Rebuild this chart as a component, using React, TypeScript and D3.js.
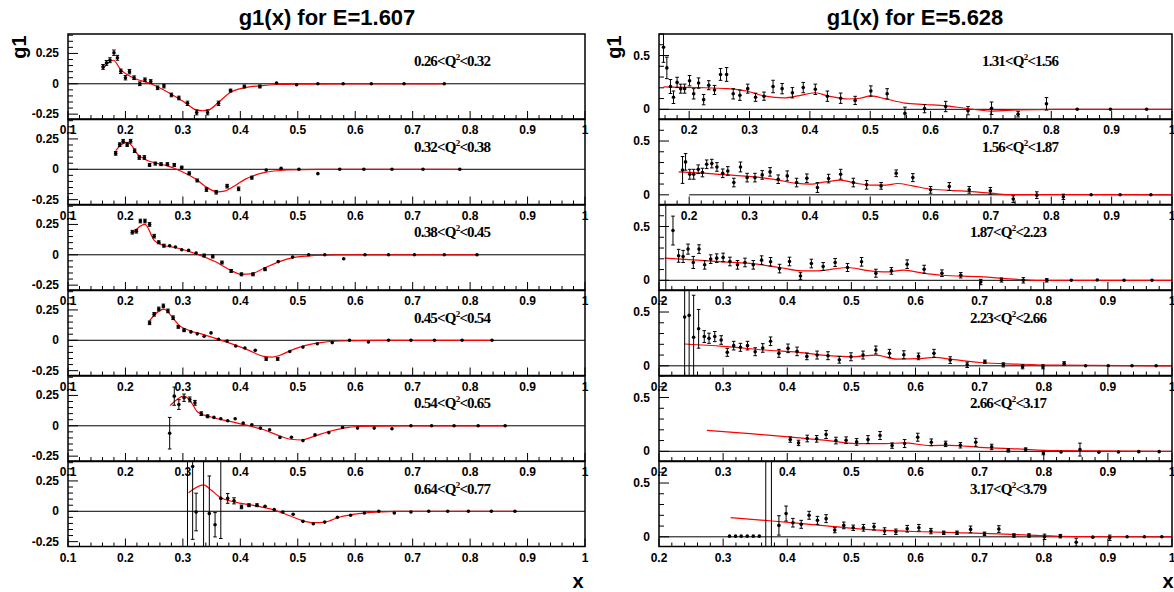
import React from "react";
import * as d3 from "d3";

const W = 1174;
const H = 592;

const leftTitle = "g1(x) for E=1.607";
const rightTitle = "g1(x) for E=5.628";

// Q^2 bins, low/high edge
const leftBins = [["0.26", "0.32"], ["0.32", "0.38"], ["0.38", "0.45"], ["0.45", "0.54"], ["0.54", "0.65"], ["0.64", "0.77"]];
const rightBins = [["1.31", "1.56"], ["1.56", "1.87"], ["1.87", "2.23"], ["2.23", "2.66"], ["2.66", "3.17"], ["3.17", "3.79"]];

const leftXTicks = [0.1, 0.2, 0.3, 0.4, 0.5, 0.6, 0.7, 0.8, 0.9, 1];
const rightXTicks = [0.2, 0.3, 0.4, 0.5, 0.6, 0.7, 0.8, 0.9, 1];
const leftYTicks = [-0.25, 0, 0.25];
const rightYTicks = [0, 0.5];

// points: [x, g1, error]
const l1Pts = [
  [0.161, 0.139, 0.02], [0.167, 0.172, 0.02], [0.173, 0.194, 0.02], [0.18, 0.256, 0.022], [0.186, 0.214, 0.02],
  [0.192, 0.103, 0.018], [0.2, 0.05, 0.018], [0.207, 0.1, 0.018], [0.215, 0.05, 0.015], [0.225, 0.0, 0.015],
  [0.234, 0.033, 0.015], [0.244, 0.019, 0.015], [0.256, -0.033, 0.015], [0.267, -0.019, 0.015], [0.28, -0.092, 0.015],
  [0.293, -0.117, 0.015], [0.308, -0.161, 0.018], [0.324, -0.236, 0.02], [0.343, -0.236, 0.02], [0.362, -0.161, 0.018],
  [0.383, -0.056, 0.012], [0.407, -0.022, 0.012], [0.434, -0.022, 0.012], [0.463, 0.006, 0.01], [0.498, -0.008, 0.01],
  [0.535, 0, 0.004], [0.579, 0, 0.003], [0.628, 0, 0.003], [0.685, 0, 0.003], [0.755, 0, 0.003]
];
const l1Fit = [
  [0.161, 0.125], [0.179, 0.194], [0.192, 0.115], [0.205, 0.07], [0.217, 0.042], [0.244, 0.0], [0.277, -0.078],
  [0.303, -0.153], [0.323, -0.215], [0.335, -0.222], [0.345, -0.215], [0.362, -0.153], [0.383, -0.069], [0.407, -0.033],
  [0.434, -0.017], [0.463, -0.006], [0.5, -0.002], [0.6, 0], [0.755, 0]
];

const l2Pts = [
  [0.183, 0.131, 0.015], [0.19, 0.203, 0.015], [0.196, 0.231, 0.015], [0.203, 0.203, 0.015], [0.209, 0.231, 0.015],
  [0.216, 0.153, 0.015], [0.224, 0.097, 0.015], [0.233, 0.097, 0.015], [0.242, 0.036, 0.012], [0.252, 0.047, 0.012],
  [0.262, 0.042, 0.012], [0.273, 0.042, 0.012], [0.285, 0.036, 0.012], [0.298, 0.014, 0.012], [0.311, -0.033, 0.012],
  [0.325, -0.092, 0.012], [0.341, -0.167, 0.015], [0.358, -0.189, 0.015], [0.377, -0.139, 0.015], [0.397, -0.161, 0.015],
  [0.42, -0.069, 0.012], [0.445, -0.006, 0.01], [0.471, 0.008, 0.008], [0.502, 0.0, 0.006], [0.535, -0.036, 0.004],
  [0.573, 0, 0.003], [0.615, 0, 0.003], [0.664, 0, 0.003], [0.718, 0, 0.003], [0.782, 0, 0.003]
];
const l2Fit = [
  [0.183, 0.153], [0.201, 0.222], [0.208, 0.21], [0.221, 0.125], [0.237, 0.075], [0.257, 0.047], [0.273, 0.028],
  [0.296, -0.014], [0.323, -0.083], [0.343, -0.153], [0.36, -0.186], [0.372, -0.18], [0.389, -0.139], [0.408, -0.083],
  [0.441, -0.028], [0.481, -0.006], [0.54, 0], [0.782, 0]
];

const l3Pts = [
  [0.212, 0.186, 0.015], [0.219, 0.194, 0.015], [0.226, 0.278, 0.015], [0.234, 0.278, 0.015], [0.242, 0.25, 0.015],
  [0.25, 0.153, 0.015], [0.258, 0.103, 0.012], [0.267, 0.075, 0.012], [0.277, 0.075, 0.01], [0.287, 0.064, 0.01],
  [0.298, 0.042, 0.01], [0.31, 0.036, 0.01], [0.323, 0.014, 0.01], [0.337, -0.006, 0.012], [0.352, -0.014, 0.012],
  [0.368, -0.064, 0.012], [0.384, -0.133, 0.012], [0.402, -0.161, 0.012], [0.422, -0.161, 0.012], [0.443, -0.119, 0.012],
  [0.466, -0.056, 0.01], [0.491, -0.019, 0.008], [0.519, 0, 0.005], [0.547, 0, 0.004], [0.58, -0.033, 0.004],
  [0.617, 0, 0.003], [0.658, 0, 0.003], [0.703, 0, 0.003], [0.755, 0, 0.003], [0.812, 0, 0.003]
];
const l3Fit = [
  [0.212, 0.175], [0.234, 0.25], [0.25, 0.119], [0.263, 0.083], [0.29, 0.056], [0.323, 0.008], [0.356, -0.056],
  [0.382, -0.125], [0.402, -0.161], [0.418, -0.158], [0.441, -0.111], [0.468, -0.056], [0.494, -0.022], [0.527, -0.006],
  [0.573, 0], [0.812, 0]
];

const l4Pts = [
  [0.242, 0.144, 0.015], [0.25, 0.214, 0.015], [0.258, 0.258, 0.015], [0.266, 0.283, 0.015], [0.274, 0.242, 0.015],
  [0.283, 0.186, 0.015], [0.292, 0.111, 0.012], [0.302, 0.083, 0.012], [0.314, 0.069, 0.01], [0.325, 0.053, 0.01],
  [0.337, 0.033, 0.008], [0.349, 0.061, 0.008], [0.362, 0.008, 0.008], [0.377, -0.006, 0.008], [0.392, -0.047, 0.008],
  [0.408, -0.064, 0.008], [0.426, -0.083, 0.01], [0.445, -0.153, 0.012], [0.465, -0.153, 0.012], [0.486, -0.092, 0.01],
  [0.509, -0.056, 0.008], [0.534, -0.028, 0.006], [0.56, -0.019, 0.005], [0.59, 0, 0.004], [0.623, -0.014, 0.004],
  [0.658, 0, 0.003], [0.697, 0, 0.003], [0.738, 0, 0.003], [0.786, 0, 0.003], [0.838, 0, 0.003]
];
const l4Fit = [
  [0.242, 0.161], [0.267, 0.256], [0.283, 0.181], [0.293, 0.125], [0.31, 0.083], [0.336, 0.047], [0.362, 0.008],
  [0.389, -0.036], [0.415, -0.083], [0.441, -0.133], [0.455, -0.139], [0.468, -0.125], [0.488, -0.083], [0.514, -0.042],
  [0.54, -0.019], [0.573, -0.006], [0.64, 0], [0.838, 0]
];

const l5Pts = [
  [0.277, -0.061, 0.13], [0.285, 0.244, 0.075], [0.293, 0.175, 0.04], [0.302, 0.231, 0.03], [0.312, 0.217, 0.02],
  [0.321, 0.189, 0.02], [0.332, 0.1, 0.015], [0.343, 0.078, 0.012], [0.354, 0.069, 0.01], [0.366, 0.058, 0.008],
  [0.378, 0.042, 0.008], [0.391, 0.058, 0.008], [0.405, 0.022, 0.008], [0.42, 0.008, 0.008], [0.435, -0.019, 0.008],
  [0.451, -0.033, 0.008], [0.469, -0.097, 0.008], [0.489, -0.094, 0.008], [0.509, -0.122, 0.008], [0.53, -0.075, 0.008],
  [0.554, -0.056, 0.008], [0.578, -0.014, 0.006], [0.604, -0.019, 0.006], [0.633, -0.019, 0.005], [0.664, -0.025, 0.005],
  [0.697, 0, 0.003], [0.733, 0, 0.003], [0.772, 0, 0.003], [0.814, 0, 0.003], [0.861, 0, 0.003]
];
const l5Fit = [
  [0.278, 0.167], [0.302, 0.244], [0.313, 0.203], [0.326, 0.111], [0.349, 0.072], [0.382, 0.036], [0.415, 0],
  [0.441, -0.033], [0.468, -0.083], [0.488, -0.111], [0.507, -0.117], [0.527, -0.089], [0.554, -0.047], [0.58, -0.019],
  [0.606, -0.006], [0.672, 0], [0.861, 0]
];

const l6Pts = [
  [0.308, 0.6, 0.95], [0.317, 0.369, 0.6], [0.323, -0.006, 0.155], [0.336, 0.6, 0.95], [0.346, -0.019, 0.31],
  [0.356, -0.111, 0.1], [0.366, 0.106, 0.33], [0.378, 0.106, 0.04], [0.389, 0.086, 0.025], [0.402, 0.036, 0.015],
  [0.415, 0.05, 0.012], [0.429, 0.05, 0.012], [0.443, 0.042, 0.01], [0.459, 0.014, 0.008], [0.474, -0.006, 0.008],
  [0.492, -0.025, 0.008], [0.509, -0.083, 0.008], [0.527, -0.103, 0.01], [0.547, -0.089, 0.008], [0.569, -0.05, 0.008],
  [0.592, -0.033, 0.006], [0.616, -0.014, 0.005], [0.641, 0, 0.004], [0.668, -0.014, 0.004], [0.697, -0.006, 0.003],
  [0.728, 0, 0.003], [0.761, 0, 0.003], [0.797, 0, 0.003], [0.837, 0, 0.003], [0.878, 0, 0.003]
];
const l6Fit = [
  [0.31, 0.153], [0.336, 0.217], [0.349, 0.175], [0.366, 0.111], [0.389, 0.078], [0.428, 0.044], [0.461, 0.008],
  [0.487, -0.039], [0.507, -0.075], [0.527, -0.094], [0.547, -0.089], [0.573, -0.047], [0.606, -0.019], [0.639, -0.006],
  [0.672, 0], [0.878, 0]
];

const r1Pts = [
  [0.1575, 0.577, 0.14], [0.163, 0.385, 0.1], [0.169, 0.212, 0.065], [0.174, 0.112, 0.058], [0.18, 0.25, 0.048],
  [0.186, 0.192, 0.042], [0.1925, 0.192, 0.042], [0.2006, 0.266, 0.048], [0.2075, 0.144, 0.048], [0.2156, 0.244, 0.048],
  [0.224, 0.09, 0.048], [0.2325, 0.224, 0.042], [0.242, 0.18, 0.042], [0.252, 0.324, 0.055], [0.262, 0.324, 0.064],
  [0.273, 0.144, 0.048], [0.284, 0.131, 0.048], [0.297, 0.192, 0.042], [0.31, 0.112, 0.038], [0.324, 0.122, 0.038],
  [0.339, 0.212, 0.058], [0.354, 0.192, 0.048], [0.371, 0.154, 0.048], [0.389, 0.202, 0.048], [0.409, 0.186, 0.048],
  [0.429, 0.122, 0.048], [0.451, 0.103, 0.048], [0.475, 0.083, 0.038], [0.501, 0.17, 0.048], [0.528, 0.144, 0.048],
  [0.5575, -0.038, 0.058], [0.59, 0.006, 0.038], [0.625, 0.026, 0.048], [0.662, -0.013, 0.038], [0.701, 0.01, 0.058],
  [0.745, -0.045, 0.026], [0.792, 0.051, 0.058], [0.843, 0, 0.008], [0.898, 0, 0.008], [0.958, 0, 0.008]
];
const r1Fit = [
  [0.1575, 0.208], [0.214, 0.202], [0.264, 0.192], [0.295, 0.17], [0.326, 0.122], [0.357, 0.106], [0.383, 0.128],
  [0.408, 0.154], [0.431, 0.122], [0.464, 0.096], [0.483, 0.103], [0.501, 0.125], [0.526, 0.096], [0.5575, 0.058],
  [0.589, 0.045], [0.626, 0.032], [0.657, 0.01], [0.701, -0.016], [0.745, -0.006], [0.8075, 0], [1, 0]
];

const r2Pts = [
  [0.189, 0.231, 0.125], [0.194, 0.306, 0.077], [0.201, 0.191, 0.046], [0.2075, 0.191, 0.046], [0.215, 0.238, 0.04],
  [0.222, 0.207, 0.04], [0.229, 0.284, 0.04], [0.2375, 0.29, 0.04], [0.246, 0.259, 0.04], [0.2556, 0.2, 0.04],
  [0.264, 0.222, 0.04], [0.274, 0.114, 0.04], [0.285, 0.259, 0.046], [0.296, 0.16, 0.04], [0.309, 0.16, 0.04],
  [0.321, 0.185, 0.04], [0.334, 0.213, 0.04], [0.3475, 0.145, 0.04], [0.3625, 0.176, 0.046], [0.378, 0.114, 0.04],
  [0.395, 0.154, 0.04], [0.4125, 0.068, 0.046], [0.431, 0.151, 0.04], [0.451, 0.191, 0.046], [0.472, 0.114, 0.04],
  [0.494, 0.093, 0.04], [0.518, 0.083, 0.031], [0.543, 0.2, 0.031], [0.5706, 0.16, 0.037], [0.6, 0.046, 0.031],
  [0.631, 0.077, 0.037], [0.664, 0.046, 0.031], [0.699, 0.037, 0.031], [0.737, -0.04, 0.031], [0.776, -0.003, 0.031],
  [0.82, -0.019, 0.025], [0.866, 0, 0.008], [0.914, 0, 0.008], [0.965, 0, 0.008]
];
const r2Fit = [
  [0.1825, 0.213], [0.214, 0.204], [0.264, 0.185], [0.32, 0.16], [0.345, 0.139], [0.376, 0.108], [0.401, 0.099],
  [0.426, 0.12], [0.451, 0.136], [0.476, 0.108], [0.501, 0.09], [0.526, 0.09], [0.545, 0.105], [0.57, 0.083],
  [0.601, 0.052], [0.651, 0.037], [0.701, 0.015], [0.726, 0.002], [0.8, 0.003], [1, 0]
];

const r3Pts = [
  [0.2106, 0.9, 1.1], [0.2218, 0.4625, 0.134], [0.2306, 0.228, 0.06], [0.2376, 0.222, 0.056], [0.2453, 0.29, 0.047],
  [0.2535, 0.166, 0.056], [0.2624, 0.29, 0.04], [0.2712, 0.144, 0.04], [0.2806, 0.197, 0.04], [0.29, 0.206, 0.04],
  [0.3, 0.2125, 0.04], [0.3106, 0.175, 0.04], [0.3224, 0.144, 0.04], [0.3341, 0.166, 0.04], [0.347, 0.144, 0.04],
  [0.36, 0.1875, 0.04], [0.374, 0.172, 0.04], [0.388, 0.109, 0.04], [0.4035, 0.175, 0.04], [0.4206, 0.04, 0.031],
  [0.4376, 0.156, 0.04], [0.456, 0.128, 0.037], [0.4747, 0.166, 0.037], [0.494, 0.119, 0.037], [0.5159, 0.172, 0.04],
  [0.5382, 0.066, 0.037], [0.5624, 0.0875, 0.031], [0.587, 0.15, 0.04], [0.6135, 0.103, 0.037], [0.6412, 0.066, 0.031],
  [0.6706, 0.047, 0.025], [0.7018, -0.016, 0.025], [0.7341, 0.003, 0.019], [0.7682, 0, 0.025], [0.8047, 0, 0.016],
  [0.843, 0, 0.008], [0.8835, 0.003, 0.008], [0.9253, 0, 0.008], [0.9688, 0, 0.008]
];
const r3Fit = [
  [0.2088, 0.206], [0.2529, 0.19], [0.3, 0.172], [0.3529, 0.15], [0.388, 0.119], [0.4235, 0.0875], [0.447, 0.0875],
  [0.494, 0.119], [0.529, 0.0875], [0.5529, 0.078], [0.582, 0.094], [0.6118, 0.066], [0.641, 0.047], [0.7, 0.034],
  [0.7588, 0.009], [0.788, 0], [1, 0]
];

const r4Pts = [
  [0.24, 0.453, 1.0], [0.247, 0.469, 1.0], [0.254, 0.266, 0.39], [0.2618, 0.344, 0.18], [0.2706, 0.272, 0.055],
  [0.278, 0.256, 0.047], [0.287, 0.272, 0.047], [0.297, 0.24, 0.04], [0.3065, 0.125, 0.037], [0.3165, 0.1875, 0.04],
  [0.327, 0.172, 0.037], [0.338, 0.1875, 0.04], [0.35, 0.131, 0.037], [0.3618, 0.166, 0.04], [0.374, 0.228, 0.04],
  [0.387, 0.116, 0.037], [0.4012, 0.1625, 0.04], [0.4153, 0.134, 0.04], [0.4306, 0.0875, 0.031], [0.4465, 0.1, 0.037],
  [0.4635, 0.094, 0.037], [0.4812, 0.056, 0.031], [0.4994, 0.084, 0.037], [0.5182, 0.1, 0.037], [0.5382, 0.147, 0.037],
  [0.5594, 0.116, 0.037], [0.5818, 0.103, 0.037], [0.6047, 0.0875, 0.031], [0.6288, 0.116, 0.037], [0.6541, 0.053, 0.031],
  [0.6806, 0.009, 0.025], [0.7082, 0.0375, 0.016], [0.737, 0.009, 0.019], [0.767, -0.009, 0.019], [0.7988, -0.009, 0.019],
  [0.8318, 0.022, 0.016], [0.8653, 0, 0.008], [0.9006, 0, 0.008], [0.9376, 0, 0.008], [0.9753, 0, 0.008]
];
const r4Fit = [
  [0.24, 0.203], [0.3, 0.181], [0.3647, 0.147], [0.4176, 0.125], [0.4647, 0.094], [0.5, 0.084], [0.5382, 0.1],
  [0.5706, 0.0625], [0.6118, 0.069], [0.629, 0.078], [0.653, 0.0625], [0.7, 0.031], [0.7588, 0.016], [0.8176, 0.006],
  [1, 0]
];

const r5Pts = [
  [0.4047, 0.109, 0.025], [0.4176, 0.078, 0.025], [0.4312, 0.119, 0.031], [0.4459, 0.116, 0.031], [0.4606, 0.156, 0.037],
  [0.4759, 0.1, 0.031], [0.4918, 0.103, 0.031], [0.5082, 0.0875, 0.031], [0.5259, 0.109, 0.037], [0.5447, 0.147, 0.037],
  [0.5635, 0.053, 0.025], [0.583, 0.072, 0.037], [0.6035, 0.131, 0.037], [0.6247, 0.084, 0.031], [0.647, 0.069, 0.025],
  [0.67, 0.056, 0.025], [0.694, 0.084, 0.037], [0.7188, 0.041, 0.025], [0.7447, 0.009, 0.016], [0.7718, 0.016, 0.016],
  [0.7994, -0.016, 0.016], [0.827, -0.006, 0.008], [0.8565, 0.016, 0.06], [0.8859, -0.009, 0.008], [0.9165, -0.006, 0.008],
  [0.9482, -0.003, 0.008], [0.98, -0.003, 0.008]
];
const r5Fit = [
  [0.2747, 0.194], [0.347, 0.1625], [0.4059, 0.131], [0.4647, 0.1], [0.5059, 0.072], [0.5529, 0.072], [0.582, 0.078],
  [0.6235, 0.053], [0.653, 0.056], [0.7, 0.0375], [0.7588, 0.022], [0.8176, 0.006], [1, 0]
];

const r6Pts = [
  [0.31, 0.006, 0], [0.3194, 0.006, 0], [0.3282, 0.006, 0], [0.3376, 0.006, 0], [0.347, 0.006, 0], [0.3565, 0.006, 0],
  [0.3665, 0.9, 1.1], [0.3753, 0.9, 1.1], [0.387, 0.106, 0.09], [0.3982, 0.216, 0.07], [0.4088, 0.131, 0.04],
  [0.4218, 0.116, 0.037], [0.4341, 0.2, 0.037], [0.4471, 0.153, 0.037], [0.4606, 0.169, 0.037], [0.4741, 0.0625, 0.025],
  [0.4882, 0.106, 0.031], [0.5029, 0.084, 0.025], [0.5188, 0.084, 0.031], [0.5353, 0.094, 0.031], [0.5518, 0.053, 0.031],
  [0.5694, 0.047, 0.025], [0.5871, 0.075, 0.031], [0.6053, 0.084, 0.031], [0.6241, 0.053, 0.025], [0.6441, 0.0375, 0.016],
  [0.6647, 0.0375, 0.016], [0.6859, 0.069, 0.031], [0.7076, 0.028, 0.016], [0.73, 0.072, 0.031], [0.7535, 0.0125, 0.016],
  [0.777, 0.0125, 0.016], [0.8012, 0, 0.025], [0.8259, 0.006, 0.016], [0.8506, -0.05, 0.037], [0.8765, -0.003, 0.008],
  [0.9029, -0.009, 0.025], [0.93, 0, 0.008], [0.957, 0, 0.008], [0.9841, 0, 0.008]
];
const r6Fit = [
  [0.3118, 0.178], [0.3765, 0.147], [0.4353, 0.116], [0.494, 0.084], [0.5529, 0.059], [0.6118, 0.047], [0.6706, 0.0375],
  [0.7294, 0.028], [0.7882, 0.0125], [0.847, 0.003], [1, 0]
];

const TOP = 34;
const PITCH = 85.5;
const PH = 85;

const cols = [
  {
    key: "l",
    x0: 68,
    x1: 585,
    yDom: [-0.29, 0.41],
    yTicks: leftYTicks,
    yMinor: 0.05,
    xTicks: leftXTicks,
    xDoms: [[0.1, 1], [0.1, 1], [0.1, 1], [0.1, 1], [0.1, 1], [0.1, 1]],
    zeroFrom: [0.1, 0.1, 0.1, 0.1, 0.1, 0.1],
    labelX: [414, 414, 414, 414, 414, 414],
    bins: leftBins,
    pts: [l1Pts, l2Pts, l3Pts, l4Pts, l5Pts, l6Pts],
    fits: [l1Fit, l2Fit, l3Fit, l4Fit, l5Fit, l6Fit],
    title: leftTitle,
    yFmt: (d) => (d === 0 ? "0" : d.toFixed(2)),
    titleX: 327,
    g1X: 19,
    xLabX: 578
  },
  {
    key: "r",
    x0: 659,
    x1: 1172,
    yDom: [-0.09, 0.7],
    yTicks: rightYTicks,
    yMinor: 0.1,
    xTicks: rightXTicks,
    xDoms: [[0.15, 1], [0.15, 1], [0.2, 1], [0.2, 1], [0.2, 1], [0.2, 1]],
    zeroFrom: [0.15, 0.2, 0.2, 0.2, 0.2, 0.2],
    labelX: [982, 982, 970, 970, 970, 970],
    bins: rightBins,
    pts: [r1Pts, r2Pts, r3Pts, r4Pts, r5Pts, r6Pts],
    fits: [r1Fit, r2Fit, r3Fit, r4Fit, r5Fit, r6Fit],
    title: rightTitle,
    yFmt: (d) => (d === 0 ? "0" : d.toFixed(1)),
    titleX: 915,
    g1X: 614,
    xLabX: 1168
  }
];

const sans = "'Liberation Sans', Arial, Helvetica, sans-serif";
const serif = "'Liberation Serif', 'Times New Roman', serif";

function Panel({ col, i }) {
  const top = TOP + i * PITCH;
  const bottom = top + PH;
  const xDom = col.xDoms[i];
  const x = d3.scaleLinear().domain(xDom).range([col.x0, col.x1]);
  const y = d3.scaleLinear().domain(col.yDom).range([bottom, top]);
  const clipId = `clip-${col.key}-${i}`;

  const minorX = d3.range(0, 51).map(k => k / 50).filter(v => v >= xDom[0] - 1e-9 && v <= 1 + 1e-9);
  const isMajorX = v => Math.abs(v * 10 - Math.round(v * 10)) < 1e-6;
  const nMin = Math.ceil(col.yDom[0] / col.yMinor - 1e-9);
  const nMax = Math.floor(col.yDom[1] / col.yMinor + 1e-9);
  const minorY = d3.range(nMin, nMax + 1).map(k => k * col.yMinor);

  const line = d3
    .line()
    .x(d => x(d[0]))
    .y(d => y(d[1]))
    .curve(d3.curveMonotoneX);

  const [lo, hi] = col.bins[i];

  return (
    <g>
      <clipPath id={clipId}>
        <rect x={col.x0} y={top} width={col.x1 - col.x0} height={PH} />
      </clipPath>
      {/* ticks */}
      {minorX.map((v, k) => (
        <line key={"xt" + k} x1={x(v)} x2={x(v)} y1={bottom} y2={bottom - (isMajorX(v) ? 8 : 4)} stroke="#000" strokeWidth={1} />
      ))}
      {minorY.map((v, k) => {
        const major = col.yTicks.some(t => Math.abs(t - v) < 1e-6);
        return (
          <line key={"yt" + k} x1={col.x0} x2={col.x0 + (major ? 10 : 5)} y1={y(v)} y2={y(v)} stroke="#000" strokeWidth={1} />
        );
      })}
      {col.yTicks.map(t => (
        <text key={"yl" + t} x={col.x0 - 9} y={y(t) + 4} textAnchor="end" fontFamily={sans} fontWeight="bold" fontSize={12}>
          {col.yFmt(t)}
        </text>
      ))}
      {/* zero line */}
      <line x1={x(col.zeroFrom[i])} x2={x(1)} y1={y(0)} y2={y(0)} stroke="#000" strokeWidth={1} />
      <g clipPath={`url(#${clipId})`}>
        <path d={line(col.fits[i])} fill="none" stroke="#ff0000" strokeWidth={1.2} />
        {col.pts[i].map((p, k) => {
          const cx = x(p[0]);
          const yt = y(p[1] + p[2]);
          const yb = y(p[1] - p[2]);
          return (
            <g key={"p" + k}>
              {p[2] > 0 && <line x1={cx} x2={cx} y1={yt} y2={yb} stroke="#000" strokeWidth={1} />}
              {p[2] > 0.01 && (
                <>
                  <line x1={cx - 1.8} x2={cx + 1.8} y1={yt} y2={yt} stroke="#000" strokeWidth={1} />
                  <line x1={cx - 1.8} x2={cx + 1.8} y1={yb} y2={yb} stroke="#000" strokeWidth={1} />
                </>
              )}
              <circle cx={cx} cy={y(p[1])} r={1.8} fill="#000" />
            </g>
          );
        })}
      </g>
      <rect x={col.x0} y={top} width={col.x1 - col.x0} height={PH} fill="none" stroke="#000" strokeWidth={1.5} />
      <text x={col.labelX[i]} y={top + 32} fontFamily={serif} fontWeight="bold" fontSize={15} letterSpacing={-0.8}>
        {lo + "<Q"}
        <tspan dy={-6} fontSize={9}>2</tspan>
        <tspan dy={6}>{"<" + hi}</tspan>
      </text>
    </g>
  );
}

function XLabels({ col, i }) {
  const top = TOP + i * PITCH;
  const bottom = top + PH;
  const x = d3.scaleLinear().domain(col.xDoms[i]).range([col.x0, col.x1]);
  return (
    <g>
      {col.xTicks
        .filter(t => t >= col.xDoms[i][0] - 1e-9)
        .map(t => (
          <text key={t} x={x(t)} y={bottom + 15} textAnchor="middle" fontFamily={sans} fontWeight="bold" fontSize={12}>
            {t === 1 ? "1" : t.toFixed(1)}
          </text>
        ))}
    </g>
  );
}

export default function App() {
  return (
    <svg width={W} height={H} style={{ position: "absolute", left: 0, top: 0, background: "#fff" }}>
      <rect width={W} height={H} fill="#fff" />
      {cols.map(col => (
        <g key={col.key}>
          <text x={col.titleX} y={25} textAnchor="middle" fontFamily={sans} fontWeight="bold" fontSize={22}>
            {col.title}
          </text>
          <text
            transform={`translate(${col.g1X + 7},47) rotate(-90)`}
            textAnchor="middle"
            fontFamily={sans}
            fontWeight="bold"
            fontSize={20}
          >
            g1
          </text>
          {d3.range(6).map(i => (
            <Panel key={i} col={col} i={i} />
          ))}
          {d3.range(6).map(i => (
            <XLabels key={"xl" + i} col={col} i={i} />
          ))}
          <text x={col.xLabX} y={588} textAnchor="middle" fontFamily={sans} fontWeight="bold" fontSize={20}>
            x
          </text>
        </g>
      ))}
    </svg>
  );
}
